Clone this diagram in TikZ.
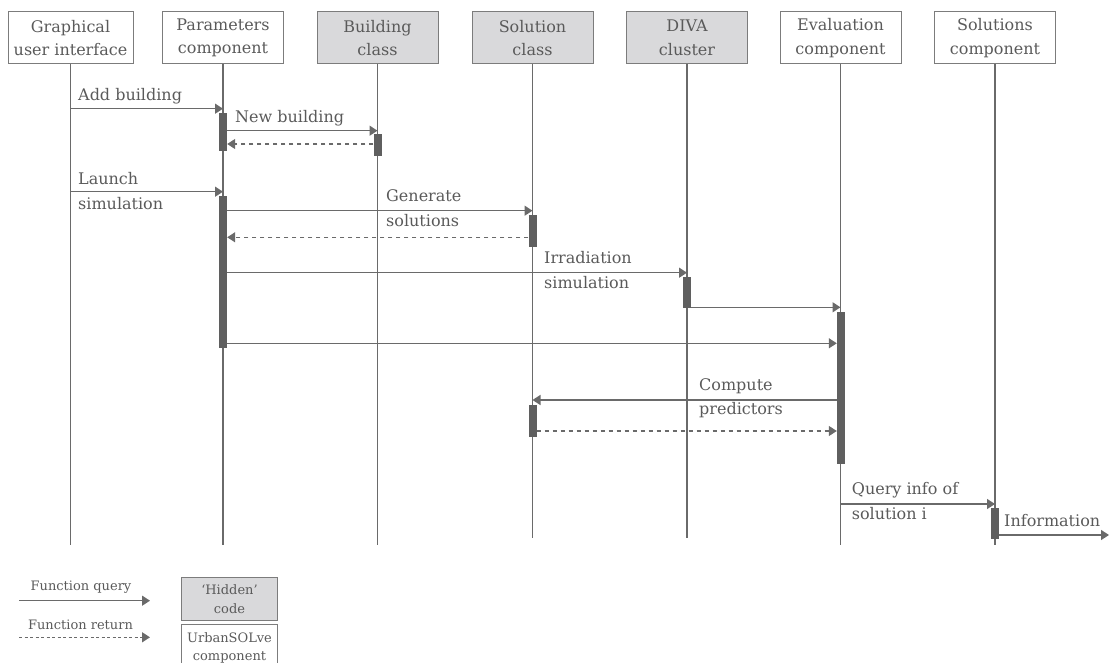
\documentclass[tikz,border=0pt]{standalone}
\usepackage{fontspec}
\setmainfont{DejaVu Serif}
\usetikzlibrary{arrows.meta}
\definecolor{ink}{HTML}{5A5A5A}
\definecolor{linegray}{HTML}{6A6A6A}
\definecolor{barfill}{HTML}{5F5F5F}
\definecolor{hiddenfill}{HTML}{D9D9DB}
\definecolor{framegray}{HTML}{7C7C7C}

\begin{document}
\begin{tikzpicture}[x=1pt,y=-1pt,
  every node/.style={text=ink},
  actor/.style={draw=framegray, line width=1pt, minimum width=121pt,
    minimum height=52pt, inner sep=2pt, align=center,
    font=\fontsize{16}{23.5}\selectfont},
  hiddenactor/.style={actor, fill=hiddenfill},
  lifeline/.style={draw=linegray, line width=1.5pt},
  bar/.style={fill=barfill, draw=none, minimum width=8pt, inner sep=0pt},
  call/.style={draw=linegray, line width=1.4pt,
    -{Triangle[length=8pt,width=10pt]}},
  reply/.style={call, dash pattern=on 4.5pt off 3.5pt},
  msg/.style={anchor=west, align=left, inner sep=0pt,
    font=\fontsize{16}{24.5}\selectfont},
  legendtext/.style={font=\fontsize{13}{18.5}\selectfont}
]
\useasboundingbox (0,0) rectangle (1112,663);
\clip (0,0) rectangle (1112,663);

% participants
\node[actor, minimum width=125pt] (gui) at (70.5,38) {Graphical\\user interface};
\node[actor] (par) at (223,38) {Parameters\\component};
\node[hiddenactor] (bld) at (377.5,38) {Building\\class};
\node[hiddenactor] (sol) at (532.5,38) {Solution\\class};
\node[hiddenactor] (diva) at (687,38) {DIVA\\cluster};
\node[actor] (eval) at (840.5,38) {Evaluation\\component};
\node[actor] (solc) at (995,38) {Solutions\\component};

% lifeline ends
\coordinate (gui-end) at (70.5,545);
\coordinate (par-end) at (223,545);
\coordinate (bld-end) at (377.5,545);
\coordinate (sol-end) at (532.5,538);
\coordinate (diva-end) at (687,538);
\coordinate (eval-end) at (840.5,545);
\coordinate (solc-end) at (995,545);

\draw[lifeline] (gui) -- (gui-end);
\draw[lifeline] (par) -- (par-end);
\draw[lifeline, line width=1pt] (bld) -- (bld-end);
\draw[lifeline] (sol) -- (sol-end);
\draw[lifeline] (diva) -- (diva-end);
\draw[lifeline] (eval) -- (eval-end);
\draw[lifeline] (solc) -- (solc-end);

% activation bars
\node[bar, minimum height=38pt]  (p1) at (223,132) {};
\node[bar, minimum height=22pt]  (b1) at (377.5,145) {};
\node[bar, minimum height=152pt] (p2) at (223,272) {};
\node[bar, minimum height=32pt]  (s1) at (532.5,231) {};
\node[bar, minimum height=31pt]  (d1) at (687,292.5) {};
\node[bar, minimum height=152pt] (e1) at (841,388) {};
\node[bar, minimum height=32pt]  (s2) at (532.5,421) {};
\node[bar, minimum height=31pt]  (q1) at (995,523.7) {};

% message rows
\coordinate (m1) at (0,108.7);
\coordinate (m2) at (0,130.7);
\coordinate (m3) at (0,144);
\coordinate (m4) at (0,191.7);
\coordinate (m5) at (0,210.7);
\coordinate (m6) at (0,237.3);
\coordinate (m7) at (0,272.7);
\coordinate (m8) at (0,307.3);
\coordinate (m9) at (0,343.3);
\coordinate (m10) at (0,400);
\coordinate (m11) at (0,431);
\coordinate (m12) at (0,504);
\coordinate (info-end) at (1109,535);

% messages
\draw[call]  (gui |- m1) -- (par |- m1);
\draw[call]  (p1.east |- m2) -- (bld |- m2);
\draw[reply] (b1.west |- m3) -- (p1.east |- m3);
\draw[call]  (gui |- m4) -- (par |- m4);
\draw[call]  (p2.east |- m5) -- (sol |- m5);
\draw[reply] (s1.west |- m6) -- (p2.east |- m6);
\draw[call]  (p2.east |- m7) -- (diva |- m7);
\draw[call]  (d1.east |- m8) -- (eval |- m8);
\draw[call]  (p2.east |- m9) -- (e1.west |- m9);
\draw[call]  (e1.west |- m10) -- (sol |- m10);
\draw[reply] (s2.east |- m11) -- (e1.west |- m11);
\draw[call]  (eval |- m12) -- (solc |- m12);
\draw[call]  (q1.east |- info-end) -- (info-end);

% message labels
\node[msg] (l-add) at (78,96.7) {Add building};
\node[msg] (l-new) at (235,118.3) {New building};
\node[msg] (l-launch) at (78,191) {Launch\\simulation};
\node[msg] (l-gen) at (386,208) {Generate\\solutions};
\node[msg] (l-irr) at (544,270) {Irradiation\\simulation};
\node[msg] (l-comp) at (699,398) {Compute\\predictors};
\node[msg] (l-query) at (851.7,501) {Query info of\\solution i};
\node[msg] (l-info) at (1004,521) {Information};

% legend
\node[legendtext] (lg-q) at (81,587) {Function query};
\coordinate (lq-a) at (19,600.7);
\coordinate (lq-b) at (150,600.7);
\draw[call] (lq-a) -- (lq-b);
\node[legendtext] (lg-r) at (80.5,625) {Function return};
\coordinate (lr-a) at (19,637.3);
\coordinate (lr-b) at (150,637.3);
\draw[reply, dash pattern=on 3pt off 2.5pt] (lr-a) -- (lr-b);
\node[hiddenactor, legendtext, minimum width=95.6pt, minimum height=42.7pt]
  (lg-hidden) at (229.5,599.3) {‘Hidden’\\code};
\node[actor, legendtext, minimum width=95.6pt, minimum height=48pt]
  (lg-comp) at (229.5,648) {UrbanSOLve\\component};
\end{tikzpicture}
\end{document}
